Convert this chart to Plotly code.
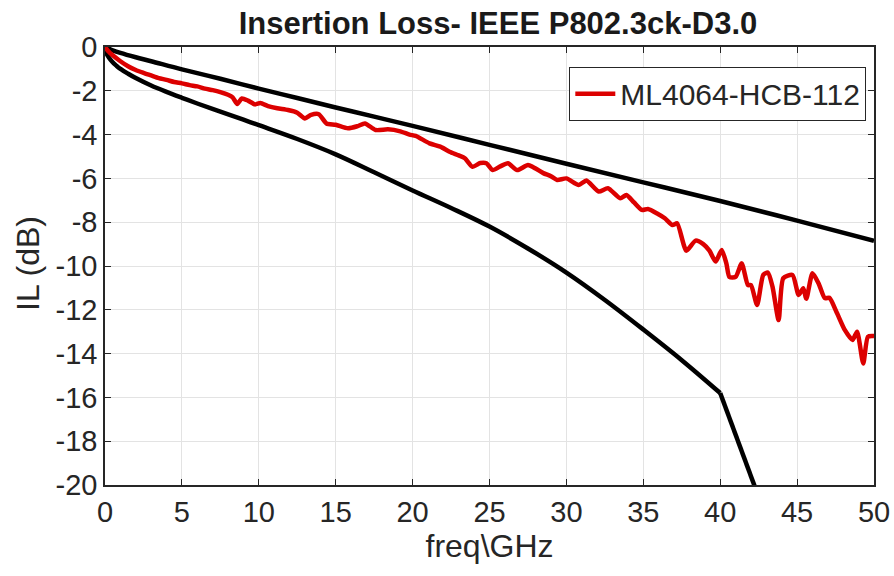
import plotly.graph_objects as go

# Upper limit line (IL limit) - GHz, dB
upper_f = [0, 0.5, 1, 2, 3, 5, 7.5, 10, 12.5, 15, 17.5, 20, 25, 30, 35, 40, 45, 50]
upper_il = [0, -0.15, -0.27, -0.47, -0.65, -1.02, -1.45, -1.9, -2.33, -2.76, -3.18, -3.6, -4.47, -5.33, -6.18, -7.03, -7.93, -8.85]

# Lower limit line: smooth part up to 40 GHz, then steep segment beyond 40 GHz
lower_f = [0, 0.1, 0.25, 0.5, 0.75, 1, 1.5, 2, 3, 4, 5, 6, 7.5, 9, 10, 12.5, 15, 17.5, 20, 22.5, 25, 27.5, 30, 32.5, 35, 37.5, 40]
lower_il = [0, -0.3, -0.48, -0.7, -0.86, -1.0, -1.22, -1.42, -1.76, -2.05, -2.32, -2.58, -2.95, -3.32, -3.57, -4.2, -4.9, -5.72, -6.55, -7.35, -8.2, -9.2, -10.3, -11.55, -12.9, -14.3, -15.8]
lower_tail_f = [40, 45]
lower_tail_il = [-15.8, -25.3]

# Measured channel ML4064-HCB-112
meas_f = [0, 0.25, 0.5, 1, 1.5, 2, 2.5, 3, 3.5, 4, 4.5, 5, 5.5, 6, 6.5, 7, 7.5, 8, 8.3, 8.6, 8.9, 9.3, 9.75, 10.1, 10.6, 11.2, 11.9, 12.5, 13.0, 13.4, 13.9, 14.4, 15.0, 15.8, 16.4, 16.9, 17.6, 18.4, 19.2, 19.8, 20.2, 21.1, 21.8, 22.4, 23.0, 23.4, 23.9, 24.4, 24.8, 25.2, 25.7, 26.2, 26.8, 27.5, 28.0, 28.5, 29.0, 29.4, 30.0, 30.8, 31.3, 32.1, 32.7, 33.5, 33.9, 34.4, 34.9, 35.3, 35.9, 36.4, 36.9, 37.2, 37.8, 38.4, 38.9, 39.3, 39.7, 40.1, 40.4, 40.6, 41.0, 41.4, 41.8, 42.0, 42.4, 42.8, 43.1, 43.4, 43.8, 44.1, 44.7, 45.1, 45.4, 45.6, 46.0, 46.4, 46.8, 47.1, 47.6, 48.1, 48.6, 48.9, 49.3, 49.6, 49.9, 50.0]
meas_il = [0, -0.22, -0.38, -0.65, -0.88, -1.05, -1.18, -1.3, -1.42, -1.5, -1.6, -1.66, -1.74, -1.8, -1.9, -1.97, -2.06, -2.18, -2.3, -2.6, -2.35, -2.45, -2.62, -2.56, -2.7, -2.8, -2.88, -3.0, -3.26, -3.1, -3.07, -3.49, -3.55, -3.71, -3.62, -3.49, -3.79, -3.76, -3.85, -4.0, -4.06, -4.4, -4.55, -4.78, -4.95, -5.08, -5.47, -5.3, -5.31, -5.62, -5.45, -5.31, -5.62, -5.39, -5.55, -5.76, -5.9, -6.07, -6.0, -6.3, -6.1, -6.6, -6.45, -6.91, -6.76, -7.1, -7.44, -7.4, -7.6, -7.82, -8.13, -8.05, -9.3, -8.84, -9.0, -9.3, -9.8, -9.27, -9.88, -10.5, -10.5, -9.88, -10.87, -10.87, -11.78, -10.41, -10.3, -10.94, -12.47, -10.56, -10.41, -11.32, -11.02, -11.5, -10.33, -10.8, -11.47, -11.45, -12.16, -12.92, -13.38, -13.0, -14.45, -13.23, -13.2, -13.2]

x_ticks = [0, 5, 10, 15, 20, 25, 30, 35, 40, 45, 50]
y_ticks = [0, -2, -4, -6, -8, -10, -12, -14, -16, -18, -20]

FONT = "Liberation Sans, Arial, sans-serif"

fig = go.Figure()
fig.add_trace(go.Scatter(x=upper_f, y=upper_il, mode="lines", line=dict(color="black", width=4.5),
                         line_shape="spline", showlegend=False))
fig.add_trace(go.Scatter(x=lower_f, y=lower_il, mode="lines", line=dict(color="black", width=4.5),
                         line_shape="spline", showlegend=False))
fig.add_trace(go.Scatter(x=lower_tail_f, y=lower_tail_il, mode="lines", line=dict(color="black", width=4.5),
                         showlegend=False))
fig.add_trace(go.Scatter(x=meas_f, y=meas_il, mode="lines", name="ML4064-HCB-112",
                         line=dict(color="#dc0000", width=4.5, shape="spline", smoothing=0.6)))

axis_font = dict(family=FONT, size=29, color="#262626")
fig.update_layout(
    width=894, height=576,
    margin=dict(l=105, r=20, t=47, b=91),
    paper_bgcolor="white", plot_bgcolor="white",
    title=dict(text="<b>Insertion Loss- IEEE P802.3ck-D3.0</b>", x=0.557, xanchor="center",
               yref="container", y=0.96, yanchor="middle",
               font=dict(family=FONT, size=31, color="#1a1a1a")),
    legend=dict(x=0.99, xanchor="right", y=0.955, yanchor="top",
                bgcolor="white", bordercolor="#262626", borderwidth=1,
                font=dict(family=FONT, size=30, color="#262626"),
                itemwidth=40, tracegroupgap=0),
    xaxis=dict(range=[0, 50], tickvals=x_ticks, ticktext=[str(v) for v in x_ticks],
               automargin=False,
               showgrid=True, gridcolor="#e3e3e3", gridwidth=1, zeroline=False,
               showline=True, linecolor="#262626", linewidth=1.5, mirror="ticks",
               ticks="inside", ticklen=6, tickcolor="#262626",
               tickfont=axis_font,
               title=dict(text="freq\\GHz", font=dict(family=FONT, size=32, color="#262626"),
                          standoff=2)),
    yaxis=dict(range=[-20, 0], tickvals=y_ticks, ticktext=[str(v) for v in y_ticks],
               automargin=False,
               showgrid=True, gridcolor="#e3e3e3", gridwidth=1, zeroline=False,
               showline=True, linecolor="#262626", linewidth=1.5, mirror="ticks",
               ticks="inside", ticklen=6, tickcolor="#262626",
               tickfont=axis_font),
    annotations=[dict(text="IL (dB)", xref="paper", yref="paper", x=-0.1, y=0.505,
                      xanchor="center", yanchor="middle", textangle=-90, showarrow=False,
                      font=dict(family=FONT, size=32, color="#262626"))],
)

fig.write_html("out.html", config={"displayModeBar": False},
               post_script="document.body.style.margin='0';document.body.style.overflow='hidden';")
